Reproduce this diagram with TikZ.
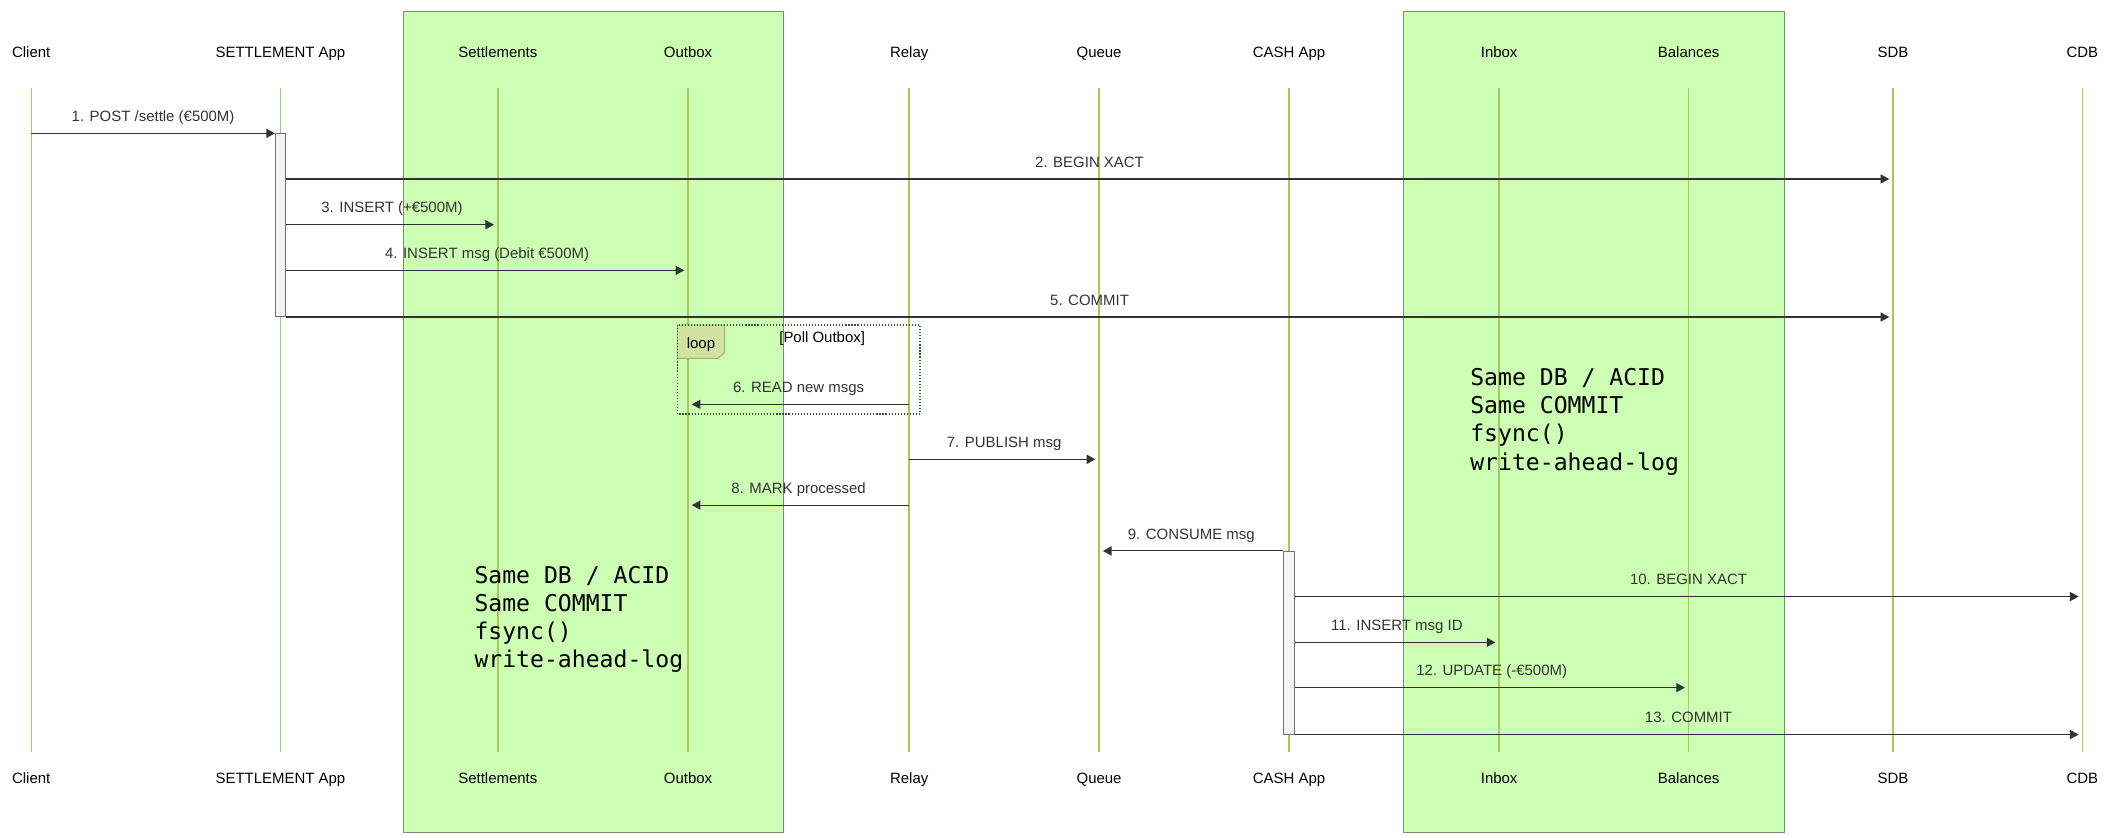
\documentclass[tikz,border=0pt]{standalone}
\usepackage{fontspec}
\setmainfont{Liberation Sans}
\newfontfamily\notefont{DejaVu Sans Mono}
\usetikzlibrary{arrows.meta,positioning}
\definecolor{lifegreen}{HTML}{A8C85A}
\definecolor{groupfill}{HTML}{CCFFB3}
\definecolor{groupedge}{HTML}{748F6A}
\definecolor{msgdark}{HTML}{333333}
\definecolor{barfill}{HTML}{F4F4F4}
\definecolor{bardraw}{HTML}{707070}
\definecolor{tabfill}{HTML}{D2E2A0}
\definecolor{tabedge}{HTML}{9DB36A}
\definecolor{loopedge}{HTML}{2F5A2F}
\tikzset{
  actor/.style={font=\fontsize{7.9}{9.5}\selectfont,anchor=base,inner sep=0pt},
  lifeline/.style={draw=lifegreen,line width=0.75pt},
  group/.style={fill=groupfill,draw=groupedge,line width=0.5pt},
  actbar/.style={fill=barfill,draw=bardraw,line width=0.5pt,minimum width=1.9mm,minimum height=3.39cm,anchor=north,inner sep=0pt},
  msg/.style={draw=msgdark,line width=0.55pt,-{Triangle[length=1.6mm,width=1.7mm]}},
  tolife/.style={shorten >=0.7mm},
  msglabel/.style={font=\fontsize{7.9}{9.5}\selectfont,text=msgdark,anchor=base,yshift=2.2mm,inner sep=0pt},
  notetext/.style={font=\fontsize{12.2}{14.8}\notefont,align=left,anchor=north west,inner sep=0pt},
}

\begin{document}
\begin{tikzpicture}[x=0.025cm,y=-0.025cm]
    \useasboundingbox (0,0) rectangle (1568,620);
    \draw[group] (299.3,8.7) rectangle (581.5,617.7);
    \draw[group] (1042.3,8.7) rectangle (1324.8,617.7);
    \foreach \nm/\xx/\txt in {client/23.2/Client, settleapp/208.2/SETTLEMENT App, settlements/369.6/Settlements, outbox/510.8/Outbox, relay/675/Relay, queue/816/Queue, cashapp/957/CASH App, inbox/1113/Inbox, balances/1253.7/Balances, sdb/1405.4/SDB, cdb/1546/CDB} {
      \node[actor] (\nm) at (\xx,42.6) {\txt};
      \node[actor] (\nm-b) at (\xx,582) {\txt};
      \coordinate (\nm-top) at (\xx,65.6);
      \coordinate (\nm-bot) at (\xx,558);
      \draw[lifeline] (\nm-top) -- (\nm-bot);
    }
    \node[notetext] (leftnote) at (352,420) {Same DB / ACID\\Same COMMIT\\fsync()\\write-ahead-log};
    \node[notetext] (rightnote) at (1091.3,273.5) {Same DB / ACID\\Same COMMIT\\fsync()\\write-ahead-log};
    \node[actbar] (settlebar) at (208.25,99) {};
    \node[actbar] (cashbar) at (957,409) {};
    \draw[msg] (client-top |- 0,99) -- node[msglabel]{1. POST /settle (€500M)} (settlebar.north west);
    \draw[msg,tolife] (settlebar.east |- 0,132.9) -- node[msglabel]{2. BEGIN XACT} (sdb-top |- 0,132.9);
    \draw[msg,tolife] (settlebar.east |- 0,166.8) -- node[msglabel]{3. INSERT (+€500M)} (settlements-top |- 0,166.8);
    \draw[msg,tolife] (settlebar.east |- 0,200.7) -- node[msglabel]{4. INSERT msg (Debit €500M)} (outbox-top |- 0,200.7);
    \draw[msg,tolife] (settlebar.south east) -- node[msglabel]{5. COMMIT} (sdb-top |- settlebar.south);
    \draw[fill=tabfill,draw=tabedge,line width=0.5pt] (503,241.3) -- (538,241.3) -- (538,261.8) -- (533,266) -- (503,266) -- cycle;
    \node[actor] (looptag) at (520.4,258.6) {loop};
    \node[actor] (loopcond) at (610.4,254.4) {[Poll Outbox]};
    \draw[msg,tolife] (relay-top |- 0,300.2) -- node[msglabel]{6. READ new msgs} (outbox-top |- 0,300.2);
    \draw[loopedge,densely dotted,line width=0.6pt] (503,241.3) rectangle (683,307.4);
    \draw[msg,tolife] (relay-top |- 0,341) -- node[msglabel]{7. PUBLISH msg} (queue-top |- 0,341);
    \draw[msg,tolife] (relay-top |- 0,375) -- node[msglabel]{8. MARK processed} (outbox-top |- 0,375);
    \draw[msg,tolife] (cashbar.north west) -- node[msglabel]{9. CONSUME msg} (queue-top |- cashbar.north);
    \draw[msg,tolife] (cashbar.east |- 0,442.9) -- node[msglabel]{10. BEGIN XACT} (cdb-top |- 0,442.9);
    \draw[msg,tolife] (cashbar.east |- 0,476.9) -- node[msglabel]{11. INSERT msg ID} (inbox-top |- 0,476.9);
    \draw[msg,tolife] (cashbar.east |- 0,510.5) -- node[msglabel]{12. UPDATE (-€500M)} (balances-top |- 0,510.5);
    \draw[msg,tolife] (cashbar.south east) -- node[msglabel]{13. COMMIT} (cdb-top |- cashbar.south);
\end{tikzpicture}
\end{document}
